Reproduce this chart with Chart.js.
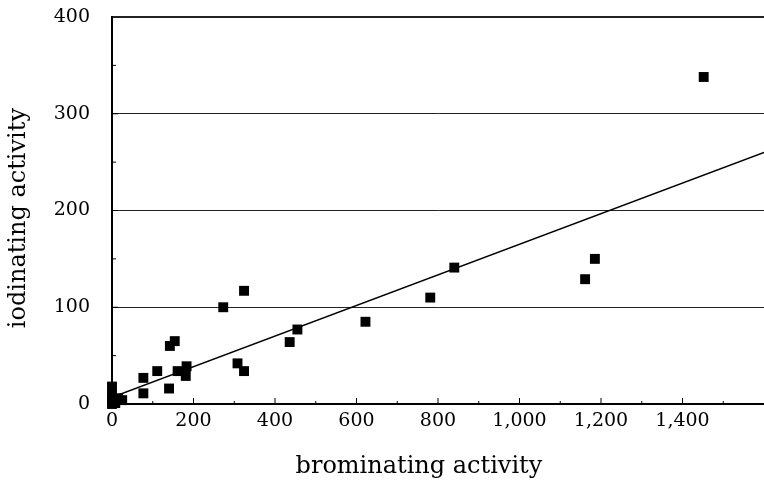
<!DOCTYPE html>
<html>
<head>
<meta charset="utf-8">
<script src="https://cdn.jsdelivr.net/npm/chart.js@4"></script>
<style>
  html, body { margin: 0; padding: 0; background: #fff; overflow: hidden; }
  /* a little wider than the window so the plot's right edge meets the window edge */
  #wrap { width: 771px; height: 489px; }
</style>
</head>
<body>
<div id="wrap"><canvas id="actChart"></canvas></div>
<script>
// brominating activity (x) vs iodinating activity (y)
const brominating = [0, 0, 0, 0, 8, 15, 25, 77, 77, 111, 140, 142, 154, 161, 181, 183, 273, 308, 324, 324, 436, 455, 622, 781, 840, 1161, 1185, 1452];
const iodinating  = [18, 10, 4, 0, 1, 6, 4, 27, 11, 34, 16, 60, 65, 34, 29, 39, 100, 42, 34, 117, 64, 77, 85, 110, 141, 129, 150, 338];

// regression line ends
const fitX = [0, 1600];
const fitY = [7, 260];

const xTicks = [0, 200, 400, 600, 800, 1000, 1200, 1400];
const yTicks = [0, 100, 200, 300, 400];

(function () {
  const serif = "'DejaVu Serif', 'Liberation Serif', serif";

  // small tick marks pointing into the plot, minor ones included
  const innerTicks = {
    id: 'innerTicks',
    afterDraw(chart) {
      const { ctx, chartArea, scales } = chart;
      ctx.save();
      ctx.strokeStyle = '#000';
      ctx.lineWidth = 1;
      for (let v = 100; v < 1600; v += 100) {
        const px = scales.x.getPixelForValue(v);
        const len = v % 200 === 0 ? 6 : 3;
        ctx.beginPath();
        ctx.moveTo(px, chartArea.bottom);
        ctx.lineTo(px, chartArea.bottom - len);
        ctx.stroke();
      }
      for (let v = 50; v < 400; v += 50) {
        const py = scales.y.getPixelForValue(v);
        const len = v % 100 === 0 ? 6 : 4;
        ctx.beginPath();
        ctx.moveTo(chartArea.left, py);
        ctx.lineTo(chartArea.left + len, py);
        ctx.stroke();
      }
      ctx.restore();
    }
  };

  new Chart(document.getElementById('actChart'), {
    type: 'scatter',
    data: {
      datasets: [{
        data: brominating.map((x, i) => ({ x, y: iodinating[i] })),
        pointStyle: 'rect',
        pointRadius: 7,
        backgroundColor: '#000',
        borderColor: '#000',
        borderWidth: 0,
        clip: false,
        order: 1
      }, {
        type: 'line',
        data: fitX.map((x, i) => ({ x, y: fitY[i] })),
        borderColor: '#000',
        borderWidth: 1.4,
        pointRadius: 0,
        fill: false,
        order: 2
      }]
    },
    options: {
      responsive: true,
      maintainAspectRatio: false,
      animation: false,
      layout: { padding: { top: 17, right: 0, bottom: 0, left: 0 } },
      plugins: {
        legend: { display: false },
        tooltip: { enabled: false }
      },
      scales: {
        x: {
          type: 'linear',
          min: 0,
          max: 1600,
          afterFit: s => { s.height = 85; s.paddingLeft = 0; s.paddingRight = 0; },
          ticks: {
            stepSize: 200,
            padding: 6,
            maxRotation: 0,
            color: '#000',
            font: { family: serif, size: 19 },
            callback: v => (xTicks.includes(v) ? v.toLocaleString('en-US') : '')
          },
          grid: { drawOnChartArea: false, drawTicks: false },
          border: { color: '#000', width: 2 },
          title: {
            display: true,
            text: 'brominating activity     ',
            color: '#000',
            font: { family: serif, size: 24 },
            padding: { top: 0, bottom: 8 }
          }
        },
        y: {
          type: 'linear',
          min: 0,
          max: 400,
          afterFit: s => { s.width = 112; s.paddingTop = 0; s.paddingBottom = 0; },
          afterBuildTicks: s => { s.ticks = yTicks.map(v => ({ value: v })); },
          grid: {
            drawTicks: false,
            color: '#222',
            lineWidth: c => (c.tick && c.tick.value === 400 ? 2 : 1)
          },
          border: { color: '#000', width: 2 },
          ticks: {
            padding: 22,
            color: '#000',
            font: { family: serif, size: 19 }
          },
          title: {
            display: true,
            text: 'iodinating activity  ',
            color: '#000',
            font: { family: serif, size: 24 },
            padding: { top: 4, bottom: 0 }
          }
        }
      }
    },
    plugins: [innerTicks]
  });
})();
</script>
</body>
</html>
